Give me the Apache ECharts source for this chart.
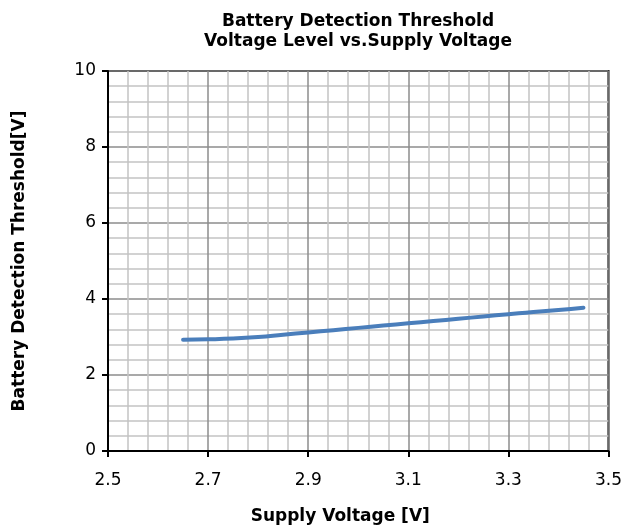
<!DOCTYPE html>
<html>
<head>
<meta charset="utf-8">
<script src="https://cdn.jsdelivr.net/npm/echarts@6/dist/echarts.min.js"></script>
<style>
  html, body { margin: 0; padding: 0; background: #fff; }
  #main { width: 625px; height: 530px; }
</style>
</head>
<body>
<div id="main"></div>
<script>
// supply voltage [V] and detection threshold [V]
var supplyVoltage = [2.65, 2.7, 2.75, 2.8, 2.85, 2.9, 2.95, 3.0, 3.05, 3.1, 3.15, 3.2, 3.25, 3.3, 3.35, 3.4, 3.45];
var threshold = [2.93, 2.94, 2.96, 3.0, 3.06, 3.12, 3.18, 3.24, 3.30, 3.36, 3.42, 3.48, 3.54, 3.60, 3.66, 3.71, 3.77];

var points = supplyVoltage.map(function (v, i) { return [v, threshold[i]]; });

var chart = echarts.init(document.getElementById('main'));
var font = 'DejaVu Sans, sans-serif';

chart.setOption({
  animation: false,
  title: {
    text: 'Battery Detection Threshold\nVoltage Level vs.Supply Voltage',
    left: 353,
    top: 7,
    textAlign: 'center',
    textStyle: { fontFamily: font, fontSize: 17, fontWeight: 'bold', color: '#000', lineHeight: 20 }
  },
  grid: {
    left: 108, right: 15, top: 71, bottom: 79,
    show: true, borderColor: '#000', borderWidth: 2, backgroundColor: 'transparent'
  },
  xAxis: {
    type: 'value', min: 2.5, max: 3.5, interval: 0.2,
    name: 'Supply Voltage [V]', nameLocation: 'middle', nameGap: 57,
    nameTextStyle: { fontFamily: font, fontSize: 17, fontWeight: 'bold', color: '#000', padding: [0, 36, 0, 0] },
    axisLine: { show: true, lineStyle: { color: '#000', width: 2 } },
    axisTick: { show: true, length: 6, lineStyle: { color: '#000', width: 2 } },
    axisLabel: { fontFamily: font, fontSize: 17, color: '#000', margin: 21,
      formatter: function (v) { return v.toFixed(1); } },
    splitLine: { show: true, lineStyle: { color: '#8c8c8c', width: 1.5 } },
    minorTick: { show: false, splitNumber: 5 },
    minorSplitLine: { show: true, lineStyle: { color: '#c4c4c4', width: 1.5 } }
  },
  yAxis: {
    type: 'value', min: 0, max: 10, interval: 2,
    name: 'Battery Detection Threshold[V]', nameLocation: 'middle', nameGap: 80,
    nameTextStyle: { fontFamily: font, fontSize: 17, fontWeight: 'bold', color: '#000' },
    axisLine: { show: true, lineStyle: { color: '#000', width: 2 } },
    axisTick: { show: true, length: 6, lineStyle: { color: '#000', width: 2 } },
    axisLabel: { fontFamily: font, fontSize: 17, color: '#000', margin: 12 },
    splitLine: { show: true, lineStyle: { color: '#8c8c8c', width: 1.5 } },
    minorTick: { show: false, splitNumber: 5 },
    minorSplitLine: { show: true, lineStyle: { color: '#c4c4c4', width: 1.5 } }
  },
  series: [{
    type: 'line',
    data: points,
    smooth: true,
    showSymbol: false,
    lineStyle: { color: '#4a7ebb', width: 4, cap: 'round' }
  }]
});
</script>
</body>
</html>
